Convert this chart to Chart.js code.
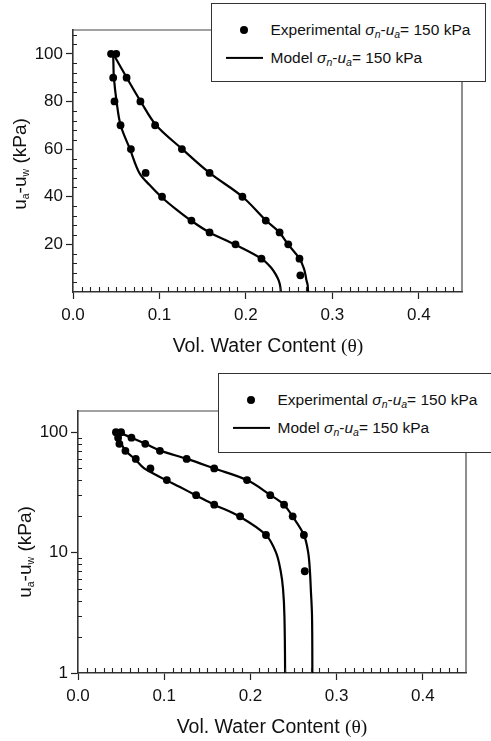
<!DOCTYPE html>
<html>
<head>
<meta charset="utf-8">
<script src="https://cdn.jsdelivr.net/npm/chart.js@4"></script>
<style>
    body { margin: 0; width: 491px; height: 741px; position: relative; background: #fff; overflow: hidden; font-family: "Liberation Sans", Arial, sans-serif; color: #111; }
    canvas { position: absolute; left: 0; }
    .legend { position: absolute; background: #fff; border: 1.3px solid #333; box-sizing: border-box; }
    .legend .dot { position: absolute; width: 8px; height: 8px; border-radius: 50%; background: #000; transform: translate(-50%, -50%); }
    .legend .seg { position: absolute; height: 2.2px; background: #000; transform: translateY(-50%); }
    .legend .txt { position: absolute; font-size: 15.5px; white-space: nowrap; transform: translateY(-50%); }
    sub { font-size: 10.5px; vertical-align: -3px; }
    .ytitle { position: absolute; font-size: 19px; white-space: nowrap; transform: translate(-50%, -50%) rotate(-90deg); }
    .xtitle { position: absolute; font-size: 19.5px; white-space: nowrap; transform: translate(-50%, -50%); }
    .serif { font-family: "Liberation Serif", "Times New Roman", serif; }
</style>
</head>
<body>
<canvas id="chartTop" width="491" height="370" style="top:0"></canvas>
<canvas id="chartBottom" width="491" height="371" style="top:370px"></canvas>

<div class="ytitle" style="left:20px; top:164px">u<sub>a</sub>-u<sub>w</sub> (kPa)</div>
<div class="xtitle" style="left:268px; top:345px">Vol. Water Content <span class="serif">(θ)</span></div>
<div class="ytitle" style="left:25px; top:552px">u<sub>a</sub>-u<sub>w</sub> (kPa)</div>
<div class="xtitle" style="left:272px; top:726px">Vol. Water Content <span class="serif">(θ)</span></div>

<div class="legend" id="legendTop" style="left:211px; top:3px; width:275px; height:79px"></div>
<div class="legend" id="legendBottom" style="left:218px; top:373px; width:274px; height:80px"></div>

<script>
// 刻度
const xTicks = [0, 0.1, 0.2, 0.3, 0.4];
const yTicksLinear = [20, 40, 60, 80, 100];
const yTicksLog = [1, 10, 100];

// 实验数据 (湿润支 / 干燥支)
const expWetSuction = [100, 90, 80, 70, 60, 50, 40, 30, 25, 20, 14];
const expWetTheta = [0.044, 0.0465, 0.048, 0.055, 0.067, 0.084, 0.103, 0.137, 0.158, 0.188, 0.218];
const expDrySuction = [100, 90, 80, 70, 60, 50, 40, 30, 25, 20, 14, 7];
const expDryTheta = [0.050, 0.062, 0.078, 0.095, 0.126, 0.158, 0.196, 0.223, 0.239, 0.249, 0.262, 0.263];

// 模型曲线
const modelWetSuction = [100, 95, 90, 80, 70, 60, 50, 45, 40, 35, 30, 25, 20, 14, 10, 7, 5, 3, 1, 0.1];
const modelWetTheta = [0.0465, 0.0468, 0.0473, 0.0504, 0.0551, 0.0659, 0.0768, 0.0884, 0.102, 0.1183, 0.1365, 0.158, 0.187, 0.218, 0.2297, 0.2351, 0.2378, 0.2394, 0.2402, 0.2403];
const modelDrySuction = [100, 95, 90, 80, 70, 60, 50, 40, 30, 25, 20, 14, 10, 7, 5, 3, 1, 0.1];
const modelDryTheta = [0.0465, 0.0543, 0.0621, 0.0783, 0.0962, 0.1264, 0.158, 0.196, 0.2233, 0.2388, 0.2488, 0.262, 0.267, 0.269, 0.270, 0.2714, 0.2718, 0.272];

const legendHtml =
    '<div class="dot" style="left:32px; top:26px"></div>' +
    '<div class="txt" style="left:58.5px; top:26px">Experimental <i>σ<sub>n</sub></i>-<i>u<sub>a</sub></i>= 150 kPa</div>' +
    '<div class="seg" style="left:14px; width:36.5px; top:53.5px"></div>' +
    '<div class="txt" style="left:58.5px; top:53.5px">Model <i>σ<sub>n</sub></i>-<i>u<sub>a</sub></i>= 150 kPa</div>';
document.getElementById('legendTop').innerHTML = legendHtml;
document.getElementById('legendBottom').innerHTML = legendHtml;

function pairs(xs, ys) {
    return xs.map((x, i) => ({ x: x, y: ys[i] }));
}

// 边框和次刻度
const frameTicks = {
    id: 'frameTicks',
    afterDraw(chart, args, opts) {
        const ctx = chart.ctx;
        const a = chart.chartArea;
        const x = chart.scales.x;
        const y = chart.scales.y;
        ctx.save();
        ctx.strokeStyle = '#444';
        ctx.lineWidth = 1.2;
        ctx.beginPath();
        ctx.moveTo(a.left, a.top);
        ctx.lineTo(a.right, a.top);
        ctx.lineTo(a.right, a.bottom);
        ctx.stroke();

        ctx.strokeStyle = '#222';
        ctx.lineWidth = 1.1;
        ctx.beginPath();
        for (let i = 1; i < 45; i++) {
            if (i % 10 === 0) continue;
            const px = Math.round(x.getPixelForValue(i / 100)) + 0.5;
            ctx.moveTo(px, a.bottom);
            ctx.lineTo(px, a.bottom - 5);
        }
        opts.yMinor.forEach(v => {
            const py = Math.round(y.getPixelForValue(v)) + 0.5;
            ctx.moveTo(a.left, py);
            ctx.lineTo(a.left + 4, py);
        });
        ctx.stroke();
        ctx.restore();
    }
};

function makeDatasets() {
    return [
        {
            label: 'Experimental',
            data: pairs(expWetTheta, expWetSuction).concat(pairs(expDryTheta, expDrySuction)),
            showLine: false,
            pointRadius: 3.9,
            pointBackgroundColor: '#000',
            pointBorderWidth: 0
        },
        {
            label: 'Model wet',
            data: pairs(modelWetTheta, modelWetSuction),
            showLine: true,
            borderColor: '#000',
            borderWidth: 2.2,
            pointRadius: 0,
            tension: 0.35
        },
        {
            label: 'Model dry',
            data: pairs(modelDryTheta, modelDrySuction),
            showLine: true,
            borderColor: '#000',
            borderWidth: 2.2,
            pointRadius: 0,
            tension: 0.35
        }
    ];
}

const tickFont = { family: '"Liberation Sans", Arial, sans-serif', size: 17 };

function xScale(height) {
    return {
        type: 'linear',
        min: 0,
        max: 0.45,
        afterBuildTicks: scale => { scale.ticks = xTicks.map(v => ({ value: v })); },
        afterFit: scale => { scale.height = height; },
        ticks: { font: tickFont, color: '#111', padding: 6, maxRotation: 0, callback: v => v.toFixed(1) },
        grid: { drawOnChartArea: false, tickLength: 7, tickColor: '#222', tickWidth: 1.2 },
        border: { display: true, color: '#333', width: 1.6 }
    };
}

function yScale(type, min, max, ticks, width) {
    return {
        type: type,
        min: min,
        max: max,
        afterBuildTicks: scale => { scale.ticks = ticks.map(v => ({ value: v })); },
        afterFit: scale => { scale.width = width; },
        ticks: { font: tickFont, color: '#111', padding: 3, callback: v => String(v) },
        grid: { drawOnChartArea: false, tickLength: 7, tickColor: '#222', tickWidth: 1.2 },
        border: { display: true, color: '#333', width: 1.6 }
    };
}

document.addEventListener('DOMContentLoaded', function() {
    const yMinorLinear = [];
    for (let v = 4; v < 110; v += 4) {
        if (v % 20 !== 0) yMinorLinear.push(v);
    }
    const yMinorLog = [2, 3, 4, 5, 6, 7, 8, 9, 20, 30, 40, 50, 60, 70, 80, 90];

    // 线性坐标图
    new Chart(document.getElementById('chartTop').getContext('2d'), {
        type: 'scatter',
        data: { datasets: makeDatasets() },
        options: {
            responsive: false,
            animation: false,
            devicePixelRatio: 1,
            layout: { padding: { top: 30, right: 29, left: 0, bottom: 0 } },
            scales: {
                x: xScale(78),
                y: yScale('linear', 0, 110, yTicksLinear, 73)
            },
            plugins: {
                legend: { display: false },
                tooltip: { enabled: false },
                frameTicks: { yMinor: yMinorLinear }
            }
        },
        plugins: [frameTicks]
    });

    // 对数坐标图
    new Chart(document.getElementById('chartBottom').getContext('2d'), {
        type: 'scatter',
        data: { datasets: makeDatasets() },
        options: {
            responsive: false,
            animation: false,
            devicePixelRatio: 1,
            layout: { padding: { top: 41, right: 25, left: 0, bottom: 0 } },
            scales: {
                x: xScale(68),
                y: yScale('logarithmic', 1, 150, yTicksLog, 78)
            },
            plugins: {
                legend: { display: false },
                tooltip: { enabled: false },
                frameTicks: { yMinor: yMinorLog }
            }
        },
        plugins: [frameTicks]
    });
});
</script>
</body>
</html>
